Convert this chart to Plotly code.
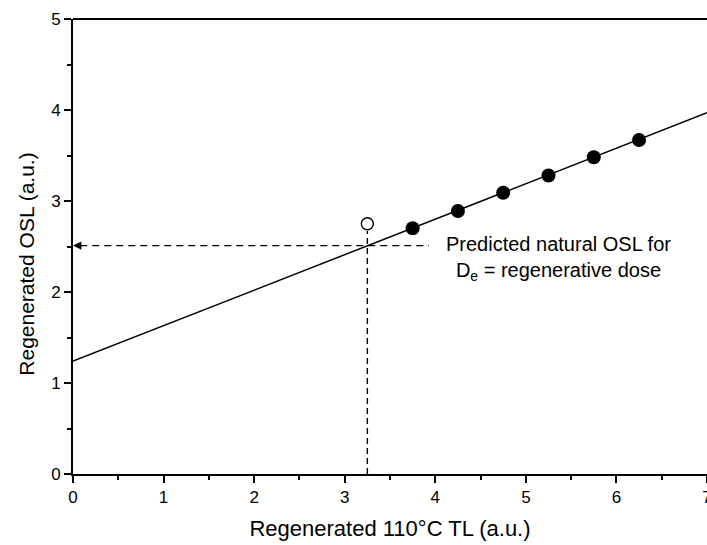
import plotly.graph_objects as go

# Data
regen_tl = [3.75, 4.25, 4.75, 5.25, 5.75, 6.25]
regen_osl = [2.70, 2.89, 3.09, 3.28, 3.48, 3.67]
natural_tl = [3.25]
natural_osl = [2.75]
fit_intercept = 1.24
fit_slope = 0.39
fit_x = [0, 7]
predicted_osl = 2.51
dash_h_end = 3.93

fit_y = [fit_intercept + fit_slope * x for x in fit_x]

FONT = "Liberation Sans, Arial, sans-serif"

fig = go.Figure()
fig.add_trace(go.Scatter(x=fit_x, y=fit_y, mode="lines",
                         line=dict(color="black", width=1.5), showlegend=False, cliponaxis=True))
fig.add_trace(go.Scatter(x=regen_tl, y=regen_osl, mode="markers",
                         marker=dict(color="black", size=14, line=dict(width=0)),
                         showlegend=False))
fig.add_trace(go.Scatter(x=natural_tl, y=natural_osl, mode="markers",
                         marker=dict(color="white", size=12, line=dict(color="black", width=1.4)),
                         showlegend=False))

# dashed guide lines
fig.add_shape(type="line", x0=0.08, x1=dash_h_end, y0=predicted_osl, y1=predicted_osl,
              line=dict(color="black", width=1.4, dash="7px,5px"))
fig.add_shape(type="line", x0=natural_tl[0], x1=natural_tl[0], y0=0, y1=natural_osl[0] - 0.08,
              line=dict(color="black", width=1.4, dash="6px,4px"))
# arrow head
fig.add_annotation(x=0, y=predicted_osl, ax=0.12, ay=predicted_osl, axref="x", ayref="y",
                   xref="x", yref="y", text="", showarrow=True, arrowhead=2,
                   arrowsize=1.2, arrowwidth=1.4, arrowcolor="black", standoff=0)

fig.add_annotation(x=5.355, y=2.37, xref="x", yref="y",
                   text="Predicted natural OSL for<br>D<sub>e</sub> = regenerative dose",
                   showarrow=False, align="center", xanchor="center", yanchor="middle",
                   font=dict(family=FONT, size=20, color="black"))

# y-axis title (placed as in the reference, slightly below centre)
fig.add_annotation(x=0, y=2.30, xref="paper", yref="y", xshift=-46,
                   text="Regenerated OSL (a.u.)", textangle=-90, showarrow=False,
                   xanchor="center", yanchor="middle",
                   font=dict(family=FONT, size=21, color="black"))

axis_common = dict(
    showline=True, linecolor="black", linewidth=1.8, mirror=False,
    ticks="outside", ticklen=7, tickwidth=1.5, tickcolor="black",
    showgrid=False, zeroline=False, ticklabeloverflow="allow", automargin=False,
    tickfont=dict(family=FONT, size=17, color="black"),
)

fig.update_xaxes(range=[0, 7], dtick=1, tick0=0,
                 minor=dict(dtick=0.5, ticks="outside", ticklen=4, tickwidth=1.5, tickcolor="black"),
                 title=dict(text="Regenerated 110°C TL (a.u.)", font=dict(family=FONT, size=22, color="black"),
                            standoff=14),
                 **axis_common)
fig.update_yaxes(range=[0, 5], dtick=1, tick0=0,
                 minor=dict(dtick=0.5, ticks="outside", ticklen=4, tickwidth=1.5, tickcolor="black"),
                 **axis_common)
# top border line
fig.add_shape(type="line", xref="paper", yref="paper", x0=0, x1=1, y0=1, y1=1,
              line=dict(color="black", width=1.8))

fig.update_layout(
    width=707, height=545,
    margin=dict(l=73, r=0, t=19, b=71),
    plot_bgcolor="white", paper_bgcolor="white",
    font=dict(family=FONT, color="black"),
)

fig.write_html("out.html")
